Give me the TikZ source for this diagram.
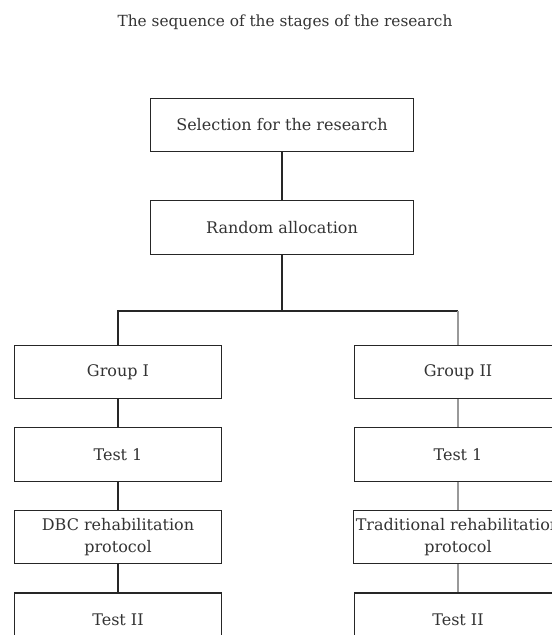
\documentclass[tikz,border=0pt]{standalone}
\usepackage{fontspec}
\setmainfont{DejaVu Serif}
\usetikzlibrary{positioning}

\begin{document}
\begin{tikzpicture}[
  x=0.75pt, y=-0.75pt, font=\fontsize{12}{17}\selectfont,
  stage/.style = {draw=black!85, line width=0.9pt, minimum width=155pt, minimum height=40pt, align=center, inner sep=2pt, text=black!80},
  wide/.style = {stage, minimum width=197pt},
  link/.style = {line width=0.9pt, draw=black!85},
  glink/.style = {line width=0.9pt, draw=black!40}
  ]
  \useasboundingbox (0,0) rectangle (552,635);
  \clip (0,0) rectangle (552,635);
  \node[text=black!80, font=\fontsize{11.5}{14}\selectfont] (title) at (285,22) {The sequence of the stages of the research};
  \node[wide] (select) at (282,125) {Selection for the research};
  \node[wide, below=36pt of select] (alloc) {Random allocation};
  \coordinate (fork) at (282,311);
  % left branch
  \node[stage] (g1) at (118,372) {Group I};
  \node[stage, below=21pt of g1] (t1a) {Test 1};
  \node[stage, below=21pt of t1a] (dbc) {DBC rehabilitation\\protocol};
  \node[stage, below=21pt of dbc] (t2a) {Test II};
  % right branch
  \node[stage] (g2) at (458,372) {Group II};
  \node[stage, below=21pt of g2] (t1b) {Test 1};
  \node[stage, below=21pt of t1b] (trad) {Traditional rehabilitation\\protocol};
  \node[stage, below=21pt of trad] (t2b) {Test II};
  \draw[link] (select) -- (alloc);
  \draw[link] (alloc) -- (fork);
  \draw[link] (fork) -| (g1);
  \draw[link] (fork) -- (fork -| g2);
  \draw[glink] (fork -| g2) -- (g2);
  \draw[link] (g1) -- (t1a);
  \draw[link] (t1a) -- (dbc);
  \draw[link] (dbc) -- (t2a);
  \draw[glink] (g2) -- (t1b);
  \draw[glink] (t1b) -- (trad);
  \draw[glink] (trad) -- (t2b);
\end{tikzpicture}
\end{document}
